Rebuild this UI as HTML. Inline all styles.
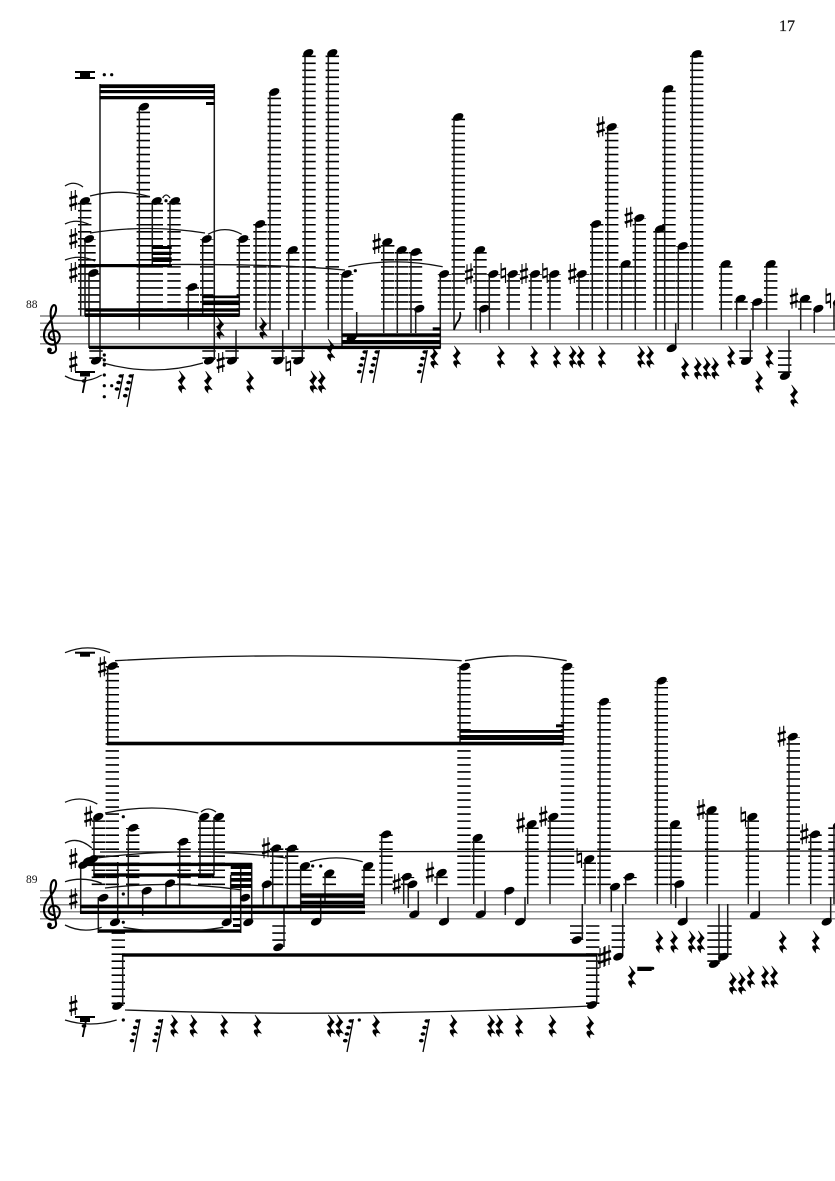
<!DOCTYPE html>
<html><head><meta charset="utf-8"><title>Score page 17</title>
<style>html,body{margin:0;padding:0;background:#fff}svg{display:block}text{font-family:"Liberation Serif",serif;fill:#111}</style></head>
<body>
<svg width="835" height="1181" viewBox="0 0 835 1181" xmlns="http://www.w3.org/2000/svg" style="overflow:hidden">
<defs>
<ellipse id="h" rx="5.4" ry="3.5" transform="rotate(-24)" fill="#000"/>
<g id="s" stroke="#000" fill="none"><path d="M-2-10V10M2-11V9" stroke-width="1.1"/><path d="M-4-2.4L4-5M-4 5L4 2.4" stroke-width="2.5"/></g>
<g id="n" stroke="#000" fill="none"><path d="M-2.2-10V5.5M2.2-5.5V10" stroke-width="1.1"/><path d="M-2.2-3L2.2-4.6M-2.2 4.6L2.2 3" stroke-width="2.2"/></g>
<path id="r" transform="scale(1.2)" fill="#000" stroke="#000" stroke-width=".5" d="M-2-9L3-3Q0 0 0 2L3.5 6.5Q-1 4.5 0 9Q-4 5-2 3.5Q0 3 1 4L-3-1Q0-3 0-5Z"/>
<g id="f"><path d="M0 0L-6.3 33" stroke="#000" stroke-width="1.3"/><use href="#d" x="-2.5" y="2"/><use href="#d" x="-4.7" y="8.5"/><use href="#d" x="-6.3" y="15"/><use href="#d" x="-8" y="21.7"/></g>
<g id="e"><path d="M0 0L-5 25" stroke="#000" stroke-width="1.3"/><use href="#d" x="-2.5" y="2"/><use href="#d" x="-4.7" y="8.5"/><use href="#d" x="-6.3" y="15"/></g>
<ellipse id="d" rx="2.4" ry="1.8" fill="#000"/>
<circle id="o" r="1.6" fill="#000"/>
<g id="c"><path fill="none" stroke="#000" stroke-width="2.1" d="M54 340C48 340 47 333 52 331C59 329 62 337 58 342C54 347 44 345 44 335C44 326 52 321 55 314C57 309 56 305 54 305C51 306 50 312 51 318L56 348C57 353 50 355 48 351"/><circle cx="49.5" cy="350" r="2.4"/></g>
</defs>

<text x="779" y="31" font-size="16" stroke="#111" stroke-width=".25">17</text>
<text x="26" y="308" font-size="11.5">88</text>
<text x="26" y="883" font-size="11.5">89</text>

<!-- staves -->
<path stroke="#666" stroke-width="1.2" fill="none" d="M40 316H835M40 323.2H835M40 330H835M40 336.8H835M40 343.8H835M40 890.8H835M40 897.8H835M40 904.8H835M40 911.8H835M40 918.8H835"/>
<use href="#c"/>
<use href="#c" y="575"/>

<!-- ledgers above, staff 1 -->
<path fill="none" stroke="#000" stroke-width="13.4" stroke-dasharray="1.6 5.42" d="M84.7 309.8V201M89 309.8V239M93 309.8V273M143.3 309.8V106.7M156.3 309.8V201M174 309.8V201M192.3 309.8V287M206.7 309.8V239M243.3 309.8V239M260 309.8V224M274.3 309.8V92M292.7 309.8V250M309 309.8V53M332.3 309.8V53M346.5 309.8V274M387.7 309.8V242M401.7 309.8V250M415.5 309.8V252M444.5 309.8V274M458.3 309.8V117M480 309.8V250M493.5 309.8V274M513.3 309.8V274M535.3 309.8V274M554 309.8V274M582.7 309.8V274M596.7 309.8V224M611.7 309.8V127M625.7 309.8V264M639.3 309.8V218M660 309.8V229M669 309.8V89M682.7 309.8V246M696.7 309.8V54M725.7 309.8V264M741 309.8V299M757.3 309.8V302M770.7 309.8V264M804.8 309.8V299"/>
<!-- ledgers above, staff 2 -->
<path fill="none" stroke="#000" stroke-width="13.4" stroke-dasharray="1.6 5.42" d="M112.3 885.1V666M464 885.1V667M567.5 885.1V667M98.4 885.1V817M132.7 885.1V828M184 885.1V842M204.7 885.1V817M218.3 885.1V817M276.7 885.1V848M291.7 885.1V848M305 885.1V866M329.3 885.1V873M368.3 885.1V866M386 885.1V834M407.5 885.1V877M441 885.1V873M478.3 885.1V838M532 885.1V824M554.3 885.1V817M589.3 885.1V859M604 885.1V702M630 885.1V877M661.3 885.1V681M675 885.1V824M711.7 885.1V810M752.3 885.1V817M793.3 885.1V737M815 885.1V834M835 885.1V825"/>
<!-- ledgers below -->
<path fill="none" stroke="#000" stroke-width="13.4" stroke-dasharray="1.6 5.42" d="M118.3 932.3V1006M592.7 925.2V1005M746 350.2V362M784.7 350.2V373M96 350.2V360M209 350.2V360M232 350.2V360M278 350.2V360M298 350.2V360M576.7 925.2V940M618.3 925.2V952M279 925.2V943M714 925.2V964M725 925.2V960"/>

<!-- stems -->
<path fill="none" stroke="#1a1a1a" stroke-width="1.5" d="M80.7 201V316M85 239V316M89 273V348M100 84V360M214.3 84V360M139.3 107V330M152.3 201V266M170 201V266M188.3 287V330M202.7 239V316M239.3 239V316M256 224V330M270 92V330M236 330V360M282.7 330V360M288.7 250V330M302.3 330V360M305 53V330M328.3 53V330M342 274V348M356.7 312V337M383.7 242V333M397.3 250V333M411 252V333M415.7 312V333M440.3 274V348M454 117V330M476 250V330M480.3 312V333M489.3 274V330M509 274V330M531 274V330M550 274V330M579 274V330M592.3 224V330M607.7 127V330M621.7 264V330M635.3 218V330M656 229V330M664.7 89V330M678.3 246V330M675.7 323V346M692.3 54V330M721.3 264V330M736.7 299V330M753 302V330M766.7 264V330M750.3 330V360M789 330V375M800.7 299V330M814.3 312V333M834 303V330"/>
<path fill="none" stroke="#1a1a1a" stroke-width="1.5" d="M107.7 666V744M460 666V744M563.3 666V744M94 817V875M128.3 828V905M179.7 842V905M200 817V875M214 817V875M272.7 848V905M287.3 848V905M263.3 884V905M80.7 863V913M117.7 862V922M98.3 897V933M142.7 891V916M166 883V905M230.7 875V922M240.7 866V933M251.7 863V922M284 905V947M300.7 866V912M320.7 897V921M325 873V904M364 866V905M381.7 834V904M403.7 877V904M408.3 884V908M418.3 891V914M437 873V904M448 897V921M473.7 838V904M485 891V914M505.3 891V915M525 897V921M527.7 824V904M550 817V904M585 859V904M600 702V904M582.3 904V940M596.7 955V1004M611.3 887V912M622.7 904V956M625.7 877V904M657.3 681V904M671 824V904M675.7 884V908M686.7 897V921M707.3 810V904M719 904V964M727.7 904V957M748.3 817V904M759.3 891V915M789 737V904M810.7 834V904M830.7 897V921M834 825V904M122.7 955V1006"/>

<!-- beams -->
<g fill="#000">
<rect x="99.5" y="84.3" width="115" height="3.8"/><rect x="99.5" y="90" width="115" height="3.2"/><rect x="99.5" y="96" width="115" height="3.3"/><rect x="206" y="102" width="8.3" height="3"/>
<rect x="78.5" y="264" width="93.5" height="3.2"/><rect x="152" y="246" width="19.7" height="3"/><rect x="152" y="251.7" width="19.7" height="3.3"/><rect x="152" y="257.3" width="19.7" height="4.7"/>
<rect x="85" y="308.3" width="154.5" height="3.4"/><rect x="85" y="313.3" width="154.5" height="3.7"/><rect x="202.7" y="295.5" width="36.6" height="2.7"/><rect x="202.7" y="300.5" width="36.6" height="4.6"/>
<rect x="89" y="345.7" width="351.7" height="3.4"/><rect x="341.7" y="333.3" width="99" height="3.4"/><rect x="341.7" y="340" width="99" height="4"/><rect x="432.7" y="327.3" width="7.5" height="3.3"/>
<rect x="107" y="741.7" width="456.5" height="3.6"/><rect x="460" y="730" width="103.5" height="2.8"/><rect x="460" y="735" width="103.5" height="5"/><rect x="556" y="724.3" width="7.4" height="3"/>
<rect x="80" y="905" width="285" height="3.3"/><rect x="80" y="910.7" width="285" height="3.3"/><rect x="300.7" y="893.3" width="63.5" height="4.4"/><rect x="300.7" y="900.7" width="63.5" height="3.6"/>
<rect x="80" y="862.7" width="172" height="3.4"/><rect x="93.3" y="873.3" width="121" height="3.4"/><rect x="98.3" y="929.3" width="142.5" height="3.4"/>
<rect x="230.7" y="866" width="21" height="3"/><rect x="230.7" y="872" width="21" height="3.7"/><rect x="230.7" y="878" width="21" height="3.7"/><rect x="230.7" y="884" width="21" height="4"/>
<rect x="233" y="918" width="7" height="2.4"/><rect x="233" y="924" width="7" height="3"/>
<rect x="122" y="953.3" width="475" height="3.4"/>
<rect x="75" y="71" width="20" height="2"/><rect x="75" y="77" width="20" height="2"/><rect x="80" y="71" width="10" height="8"/>
<rect x="75" y="371" width="20" height="2"/><rect x="80" y="372" width="10" height="4.5"/>
<rect x="75" y="651.7" width="20" height="2"/><rect x="80" y="652.5" width="10" height="4.2"/>
<rect x="75" y="1016" width="20" height="2"/><rect x="80" y="1017" width="10" height="5"/>
<rect x="637.3" y="966.7" width="14.4" height="4.3"/>
</g>
<path stroke="#000" stroke-width="1.8" fill="none" d="M85.7 377L82.7 393M85.7 1022L82.7 1037M454 330Q456 323 459 320Q461 316 460 312"/>
<use href="#d" x="84" y="381"/><use href="#d" x="84" y="1026"/>

<!-- slurs and ties -->
<path fill="none" stroke="#111" stroke-width="1.3" d="M65 186Q74 180 83 187M65 224Q77 218 90 225M65 260Q80 254 95 261M90 196Q120 188 150 196.7M90 233Q148 224 205 233M208 234.3Q225 225 241.7 234.3M162.7 198Q166 192 170 198M172 264.5Q280 264 345 270M348.3 266.7Q395 257 442.7 266.7M103 363Q153 377 203 363M65 376Q83 386 101.7 375M65 652.7Q88 643 110 652.7M115 660.7Q288 651 461.7 660.7M465 660.7Q516 651 566.7 660.7M65 802.3Q81 795 97.3 804M105 813Q152 803 198.3 813M201 812Q208 806 216 812M65 843Q78 836 91.7 848M96.7 858Q190 846 287 858M100 852Q400 851 835 851M65 881.7Q83 876 101.7 883.3M105 888Q173 880 241.7 890M65 925Q83 934 101.7 927.3M123.3 927.3Q173 936 223.3 927.3M310 861.7Q336 854 362.7 861.7M125 1010Q350 1018 590 1006M65 1020Q90 1028 116.7 1020"/>

<!-- note heads staff 1 -->
<use href="#h" x="85" y="201"/><use href="#h" x="89" y="239"/><use href="#h" x="93.3" y="273"/><use href="#h" x="144" y="106.7"/><use href="#h" x="156.7" y="201"/><use href="#h" x="175" y="201"/><use href="#h" x="192.3" y="287"/><use href="#h" x="206.7" y="239"/><use href="#h" x="243.3" y="239"/><use href="#h" x="260" y="224"/><use href="#h" x="274.3" y="92"/><use href="#h" x="292.7" y="250"/><use href="#h" x="308.3" y="53"/><use href="#h" x="332.3" y="53"/><use href="#h" x="346.7" y="274"/><use href="#h" x="351.7" y="337.7"/><use href="#h" x="387.3" y="242"/><use href="#h" x="401.7" y="250"/><use href="#h" x="415.7" y="252"/><use href="#h" x="419.3" y="308.7"/><use href="#h" x="444" y="274"/><use href="#h" x="458.3" y="117"/><use href="#h" x="480" y="250"/><use href="#h" x="484" y="308.7"/><use href="#h" x="493.3" y="274"/><use href="#h" x="512.7" y="274"/><use href="#h" x="535" y="274"/><use href="#h" x="554.3" y="274"/><use href="#h" x="581.7" y="274"/><use href="#h" x="596" y="224"/><use href="#h" x="611.7" y="127"/><use href="#h" x="625.7" y="264"/><use href="#h" x="639.3" y="218"/><use href="#h" x="660" y="229"/><use href="#h" x="668.3" y="89"/><use href="#h" x="682.7" y="246"/><use href="#h" x="671.7" y="348.3"/><use href="#h" x="696.7" y="54"/><use href="#h" x="725.7" y="264"/><use href="#h" x="740.7" y="298.7"/><use href="#h" x="757.3" y="302"/><use href="#h" x="770.7" y="264"/><use href="#h" x="746" y="361"/><use href="#h" x="785" y="376"/><use href="#h" x="805" y="298.7"/><use href="#h" x="818.3" y="308.7"/><use href="#h" x="838" y="302"/>
<use href="#h" x="96" y="360.7"/><use href="#h" x="209" y="360.7"/><use href="#h" x="232" y="360.7"/><use href="#h" x="278.3" y="360.7"/><use href="#h" x="298.3" y="360.7"/>

<!-- note heads staff 2 -->
<use href="#h" x="112.7" y="666"/><use href="#h" x="465" y="666.7"/><use href="#h" x="567.3" y="666.7"/><use href="#h" x="98.3" y="816.7"/><use href="#h" x="83.3" y="865"/><use href="#h" x="88" y="861"/><use href="#h" x="93" y="859"/><use href="#h" x="133.3" y="827.7"/><use href="#h" x="183.3" y="841.7"/><use href="#h" x="204.3" y="816.7"/><use href="#h" x="219" y="816.7"/><use href="#h" x="115" y="922.3"/><use href="#h" x="103.3" y="897.7"/><use href="#h" x="146.7" y="890.7"/><use href="#h" x="170" y="883.3"/><use href="#h" x="226.7" y="922.3"/><use href="#h" x="245" y="897.7"/><use href="#h" x="248.3" y="922.3"/><use href="#h" x="276" y="848.3"/><use href="#h" x="292" y="848.5"/><use href="#h" x="266.7" y="884.3"/><use href="#h" x="278.3" y="947.3"/><use href="#h" x="305" y="866"/><use href="#h" x="329.3" y="873.3"/><use href="#h" x="316" y="921.7"/><use href="#h" x="368.3" y="866"/><use href="#h" x="386" y="834.3"/><use href="#h" x="406.7" y="876.7"/><use href="#h" x="412.3" y="884.3"/><use href="#h" x="414.3" y="914.3"/><use href="#h" x="441.7" y="872.7"/><use href="#h" x="444" y="921.7"/><use href="#h" x="477.7" y="837.7"/><use href="#h" x="480.7" y="914.3"/><use href="#h" x="509.3" y="890.7"/><use href="#h" x="520" y="921.7"/><use href="#h" x="531.7" y="824"/><use href="#h" x="553.3" y="816.7"/><use href="#h" x="589.3" y="859"/><use href="#h" x="604" y="701.7"/><use href="#h" x="615" y="886.7"/><use href="#h" x="629.3" y="876.7"/><use href="#h" x="576.7" y="940"/><use href="#h" x="618.3" y="956.7"/><use href="#h" x="661.7" y="680.7"/><use href="#h" x="675" y="824"/><use href="#h" x="679.3" y="884"/><use href="#h" x="682.7" y="921.7"/><use href="#h" x="711.7" y="810"/><use href="#h" x="714" y="964"/><use href="#h" x="723.3" y="956.7"/><use href="#h" x="752.3" y="816.7"/><use href="#h" x="755" y="915"/><use href="#h" x="792.7" y="736.7"/><use href="#h" x="815" y="834.3"/><use href="#h" x="826.7" y="921.7"/><use href="#h" x="838" y="825"/><use href="#h" x="117.3" y="1006"/><use href="#h" x="592" y="1005"/>

<!-- accidentals -->
<use href="#s" x="73.3" y="201"/><use href="#s" x="73.3" y="239"/><use href="#s" x="73.3" y="273"/><use href="#s" x="73.3" y="362"/><use href="#s" x="220.7" y="363"/><use href="#n" x="288.3" y="366"/><use href="#s" x="376.7" y="244"/><use href="#s" x="469" y="274.3"/><use href="#n" x="503.3" y="273"/><use href="#s" x="524" y="274"/><use href="#n" x="545" y="273"/><use href="#s" x="572.3" y="274"/><use href="#s" x="600.7" y="127.3"/><use href="#s" x="628.7" y="217.7"/><use href="#s" x="794" y="298.7"/><use href="#n" x="828.3" y="298.3"/>
<use href="#s" x="102.3" y="667.3"/><use href="#s" x="88.3" y="816.7"/><use href="#s" x="73.3" y="859"/><use href="#s" x="73.3" y="899.3"/><use href="#s" x="73.3" y="1006"/><use href="#s" x="266" y="848.3"/><use href="#s" x="396.7" y="884.3"/><use href="#s" x="430" y="872.7"/><use href="#s" x="520.7" y="823.3"/><use href="#s" x="543.3" y="816.7"/><use href="#n" x="579.3" y="858"/><use href="#s" x="602" y="958"/><use href="#s" x="607" y="956"/><use href="#s" x="701" y="810"/><use href="#n" x="743.3" y="816.7"/><use href="#s" x="781.7" y="736.7"/><use href="#s" x="804.3" y="834.3"/>

<!-- rests staff 1 -->
<use href="#r" x="181.7" y="381.7"/><use href="#r" x="208" y="382"/><use href="#r" x="250" y="381.7"/><use href="#r" x="220" y="328"/><use href="#r" x="263" y="328"/><use href="#r" x="330.7" y="350"/><use href="#r" x="313.3" y="381.7"/><use href="#r" x="321.7" y="381.7"/><use href="#r" x="434" y="357.3"/><use href="#r" x="456.7" y="356.7"/><use href="#r" x="500.7" y="356.7"/><use href="#r" x="534" y="356.7"/><use href="#r" x="556.7" y="356.7"/><use href="#r" x="572.7" y="356.7"/><use href="#r" x="580.7" y="356.7"/><use href="#r" x="601.7" y="356.7"/><use href="#r" x="641" y="356.7"/><use href="#r" x="650" y="356.7"/><use href="#r" x="685" y="368.3"/><use href="#r" x="697.7" y="368.3"/><use href="#r" x="706.7" y="368.3"/><use href="#r" x="715" y="368.3"/><use href="#r" x="731" y="356.7"/><use href="#r" x="769.3" y="356.7"/><use href="#r" x="759" y="381.7"/><use href="#r" x="794" y="395.7"/>
<use href="#e" x="123.3" y="374"/><use href="#f" x="133.3" y="374"/><use href="#f" x="367.3" y="350"/><use href="#f" x="379.3" y="350"/><use href="#f" x="427.3" y="350"/>
<use href="#o" x="104.3" y="74.7"/><use href="#o" x="111.7" y="74.7"/><use href="#o" x="166" y="200.7"/><use href="#o" x="355.3" y="270.7"/><use href="#o" x="104.3" y="355"/><use href="#o" x="104.3" y="360"/><use href="#o" x="104.3" y="365"/><use href="#o" x="104.3" y="375"/><use href="#o" x="104.3" y="385.7"/><use href="#o" x="104.3" y="396.7"/><use href="#o" x="111.7" y="385.7"/>

<!-- rests staff 2 -->
<use href="#r" x="174" y="1025.7"/><use href="#r" x="193.3" y="1025.7"/><use href="#r" x="224" y="1025.7"/><use href="#r" x="257.3" y="1025.7"/><use href="#r" x="330.7" y="1025.7"/><use href="#r" x="339.3" y="1025.7"/><use href="#r" x="376" y="1025.7"/><use href="#r" x="453.3" y="1025.7"/><use href="#r" x="491" y="1025.7"/><use href="#r" x="499.3" y="1025.7"/><use href="#r" x="519" y="1025.7"/><use href="#r" x="552.3" y="1025.7"/><use href="#r" x="590" y="1027"/><use href="#r" x="631.7" y="976.7"/><use href="#r" x="659.3" y="941.7"/><use href="#r" x="674" y="941.7"/><use href="#r" x="691.7" y="941.7"/><use href="#r" x="700.7" y="941.7"/><use href="#r" x="782.7" y="941.7"/><use href="#r" x="815.7" y="941.7"/><use href="#r" x="732.7" y="983.3"/><use href="#r" x="741.7" y="983.3"/><use href="#r" x="750.7" y="976.7"/><use href="#r" x="765" y="976.7"/><use href="#r" x="774" y="976.7"/>
<use href="#f" x="140" y="1019"/><use href="#f" x="162.7" y="1019"/><use href="#f" x="353.3" y="1019"/><use href="#f" x="429.3" y="1019"/>
<use href="#o" x="123.3" y="816.7"/><use href="#o" x="123.3" y="894"/><use href="#o" x="123.3" y="922.3"/><use href="#o" x="123.3" y="1020"/><use href="#o" x="312.7" y="866"/><use href="#o" x="320.7" y="866"/><use href="#o" x="359.3" y="1020"/><use href="#o" x="652.7" y="968.3"/>
</svg>
</body></html>
